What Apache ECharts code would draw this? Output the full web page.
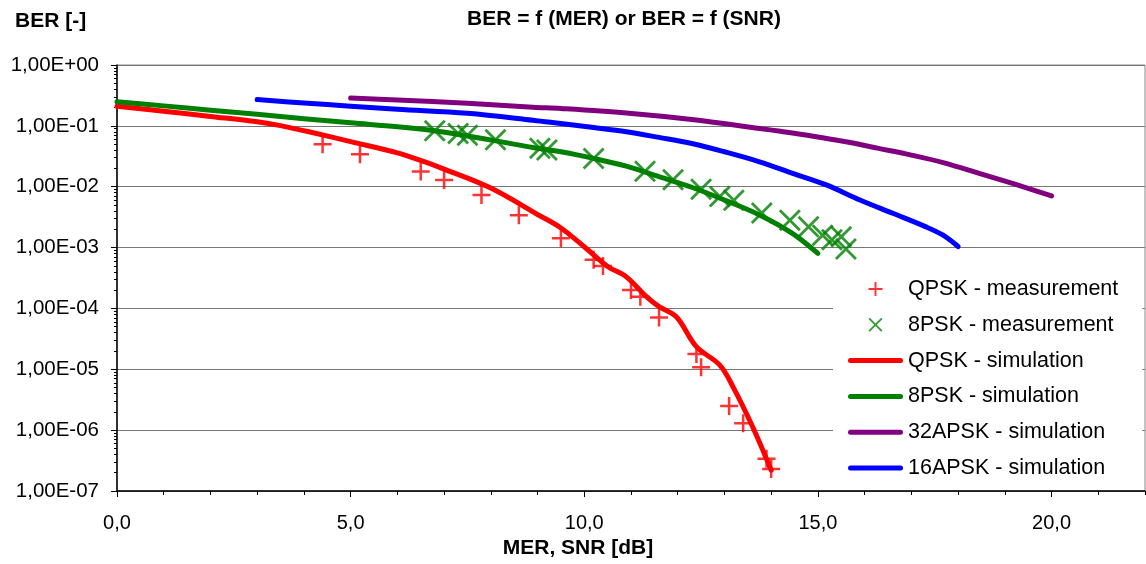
<!DOCTYPE html>
<html>
<head>
<meta charset="utf-8">
<style>
  html, body { margin: 0; padding: 0; background: #fff; }
  #chart { width: 1146px; height: 564px; }
</style>
<script src="https://cdn.jsdelivr.net/npm/echarts@6/dist/echarts.min.js"></script>
</head>
<body>
<div id="chart"></div>
<script>
// measured points [MER dB, BER]
var qpskMeas = [[4.4,5.0e-2],[5.2,3.4e-2],[6.5,1.77e-2],[7.0,1.29e-2],[7.8,7.3e-3],[8.6,3.4e-3],
    [9.5,1.42e-3],[10.2,6.3e-4],[10.4,5.0e-4],[11.0,2.0e-4],[11.2,1.56e-4],[11.6,7.1e-5],
    [12.4,1.78e-5],[12.5,1.08e-5],[13.1,2.5e-6],[13.4,1.3e-6],[13.9,3.4e-7],[14.0,2.3e-7]];
var psk8Meas = [[6.8,8.3e-2],[7.3,7.5e-2],[7.5,7.0e-2],[8.1,5.9e-2],[9.05,4.3e-2],[9.2,4.0e-2],
    [10.2,2.9e-2],[11.3,1.8e-2],[11.9,1.3e-2],[12.5,9.1e-3],[12.9,6.9e-3],[13.2,6.0e-3],
    [13.8,3.7e-3],[14.4,2.8e-3],[14.8,2.2e-3],[15.1,1.6e-3],[15.3,1.35e-3],[15.5,1.5e-3],[15.6,9.5e-4]];

// simulated curves
var qpskSim = [[0,0.21],[1,0.174],[2,0.143],[3,0.117],[3.5,0.101],[4.2,0.077],[5,0.055],[6,0.036],
    [6.5,0.027],[7,0.0195],[8,9.5e-3],[9,3.5e-3],[9.5,2.1e-3],[10,1.03e-3],[10.5,4.9e-4],[10.9,3.3e-4],
    [11.33,1.56e-4],[11.6,1.07e-4],[11.97,7.3e-5],[12.4,2.35e-5],[12.9,1.17e-5],[13.18,5.2e-6],
    [13.6,1.15e-6],[14.0,2.2e-7]];
var psk8Sim = [[0,0.25],[1,0.213],[2,0.181],[3,0.155],[4,0.131],[5,0.112],[6,0.097],[6.8,0.083],
    [7.5,0.068],[8.2,0.055],[8.9,0.044],[9.5,0.0375],[10.2,0.0292],[10.9,0.0218],[11.6,0.0146],
    [12.3,9.8e-3],[13.0,6.05e-3],[13.75,3.44e-3],[14.46,1.7e-3],[15.0,8.0e-4]];
var apsk32Sim = [[5,0.287],[6,0.266],[7.5,0.235],[8.9,0.202],[9.5,0.193],[10.9,0.163],[12.3,0.127],
    [13.75,0.0906],[14.2,0.0813],[14.9,0.0676],[15.6,0.0547],[16.3,0.0426],[17.0,0.0331],[17.7,0.0247],
    [18.45,0.0166],[19.2,0.0111],[20,7.05e-3]];
var apsk16Sim = [[3,0.27],[4,0.238],[5,0.21],[6,0.187],[7.5,0.161],[8.9,0.124],[9.5,0.109],[10.2,0.094],
    [10.9,0.080],[11.6,0.0646],[12.3,0.0514],[13.0,0.0375],[13.75,0.0257],[14.46,0.0166],[15.18,0.0107],
    [15.9,6.05e-3],[16.6,3.66e-3],[17.3,2.21e-3],[17.67,1.61e-3],[18,1.04e-3]];

var legendNames = ['QPSK - measurement','8PSK - measurement','QPSK - simulation',
    '8PSK - simulation','32APSK - simulation','16APSK - simulation'];
var yMinorTicks = [];
for (var e = -7; e < 0; e++) {
    for (var m = 2; m <= 9; m++) yMinorTicks.push(m * Math.pow(10, e));
}

var FONT = 'Liberation Sans, Arial, sans-serif';
var plusPath = 'path://M-1.25,-9L1.25,-9L1.25,-1.25L9,-1.25L9,1.25L1.25,1.25L1.25,9L-1.25,9L-1.25,1.25L-9,1.25L-9,-1.25L-1.25,-1.25Z';
var crossPath = 'path://M5.73,-7L7,-5.73L1.27,0L7,5.73L5.73,7L0,1.27L-5.73,7L-7,5.73L-1.27,0L-7,-5.73L-5.73,-7L0,-1.27Z';
var barPath = 'path://M2.5,0L52.5,0A2.5,2.5,0,0,1,52.5,5L2.5,5A2.5,2.5,0,0,1,2.5,0Z';

function berLabel(v) {
    var p = Math.round(Math.log10(v));
    return '1,00E' + (p < 0 ? '-' : '+') + String(Math.abs(p)).padStart(2, '0');
}

function simLine(name, data, color) {
    return {
        name: name, type: 'line', data: data, smooth: 0.35, symbol: 'none',
        lineStyle: { color: color, width: 5, cap: 'round', join: 'round' },
        itemStyle: { color: color }, z: 2
    };
}

var chart = echarts.init(document.getElementById('chart'));
chart.setOption({
    animation: false,
    grid: {
        left: 117, right: 1, top: 65, bottom: 73, outerBoundsMode: 'none',
        show: true, borderColor: '#888', borderWidth: 1, backgroundColor: '#fff'
    },
    graphic: [
        { type: 'text', x: 624, y: 19, style: { text: 'BER = f (MER) or BER = f (SNR)', font: 'bold 21px ' + FONT, fill: '#000', align: 'center', verticalAlign: 'middle' } },
        { type: 'text', x: 15, y: 21, style: { text: 'BER [-]', font: 'bold 21px ' + FONT, fill: '#000', align: 'left', verticalAlign: 'middle' } },
        { type: 'text', x: 578, y: 548, style: { text: 'MER, SNR [dB]', font: 'bold 21px ' + FONT, fill: '#000', align: 'center', verticalAlign: 'middle' } }
    ],
    legend: {
        data: legendNames.map(function (n, i) {
            return i < 2 ? { name: n } : { name: n, icon: barPath };
        }),
        orient: 'vertical', left: 833, top: 270,
        padding: [8, 24, 8, 15], backgroundColor: '#fff',
        itemWidth: 55, itemHeight: 14, itemGap: 13.8,
        textStyle: { fontSize: 21.5, fontFamily: FONT, color: '#000' }
    },
    xAxis: [{
        type: 'value', min: 0, max: 22, interval: 5,
        axisLine: { lineStyle: { color: '#000', width: 1.5 } },
        axisTick: { length: 6, lineStyle: { color: '#000' } },
        axisLabel: { fontSize: 20, fontFamily: FONT, color: '#000', margin: 22, showMaxLabel: false,
            formatter: function (v) { return v.toFixed(1).replace('.', ','); } },
        splitLine: { show: false }
    }, {
        type: 'value', min: 0, max: 22, interval: 1, position: 'bottom',
        axisLine: { show: false },
        axisTick: { length: 4, lineStyle: { color: '#000' } },
        axisLabel: { show: false }, splitLine: { show: false }
    }],
    yAxis: [{
        type: 'log', logBase: 10, min: 1e-7, max: 1,
        axisLine: { show: true, lineStyle: { color: '#000', width: 1.5 } },
        axisTick: { show: true, length: 6, lineStyle: { color: '#000' } },
        axisLabel: { fontSize: 20.5, fontFamily: FONT, color: '#000', margin: 18, formatter: berLabel },
        splitLine: { show: true, lineStyle: { color: '#777', width: 1 } }
    }, {
        type: 'log', logBase: 10, min: 1e-7, max: 1, position: 'left',
        axisLine: { show: false },
        axisTick: { show: true, length: 3, customValues: yMinorTicks, lineStyle: { color: '#000' } },
        axisLabel: { show: false }, splitLine: { show: false }
    }],
    series: [
        simLine('QPSK - simulation', qpskSim, '#ff0000'),
        simLine('8PSK - simulation', psk8Sim, '#008000'),
        simLine('32APSK - simulation', apsk32Sim, '#800080'),
        simLine('16APSK - simulation', apsk16Sim, '#0000ff'),
        { name: 'QPSK - measurement', type: 'scatter', data: qpskMeas, symbol: plusPath, symbolSize: 18,
          itemStyle: { color: '#ff0000' }, z: 3 },
        { name: '8PSK - measurement', type: 'scatter', data: psk8Meas, symbol: crossPath, symbolSize: 22,
          itemStyle: { color: '#008000' }, z: 3 }
    ]
});
</script>
</body>
</html>
